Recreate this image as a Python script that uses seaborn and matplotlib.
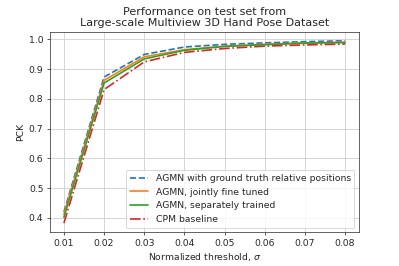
import pandas as pd
import matplotlib
matplotlib.use("Agg")
import matplotlib.pyplot as plt
import seaborn as sns

thresholds = [0.01, 0.02, 0.03, 0.04, 0.05, 0.06, 0.07, 0.08]
pck_gt_relative = [0.420, 0.873, 0.949, 0.974, 0.983, 0.988, 0.992, 0.995]
pck_joint = [0.412, 0.862, 0.941, 0.965, 0.977, 0.983, 0.988, 0.990]
pck_separate = [0.402, 0.853, 0.934, 0.963, 0.976, 0.982, 0.987, 0.989]
pck_cpm = [0.382, 0.831, 0.924, 0.956, 0.969, 0.977, 0.981, 0.984]

series = [
    ("AGMN with ground truth relative positions", pck_gt_relative, "#1f77b4", "--"),
    ("AGMN, jointly fine tuned", pck_joint, "#ff7f0e", "-"),
    ("AGMN, separately trained", pck_separate, "#2ca02c", "-"),
    ("CPM baseline", pck_cpm, "#d62728", "-."),
]

sns.set_style("ticks", {"xtick.major.size": 3.5, "ytick.major.size": 3.5})
plt.rcParams["font.family"] = ["DejaVu Sans"]

fig, ax = plt.subplots(figsize=(6, 4), dpi=66.5)
for nombre, vals, color, ls in series:
    df = pd.DataFrame({"threshold": thresholds, "pck": vals})
    sns.lineplot(data=df, x="threshold", y="pck", ax=ax, color=color,
                 linestyle=ls, linewidth=1.8, label=nombre)

ax.grid(True, color="#d3d3d3", linewidth=1)
ax.set_axisbelow(True)
ax.set_xticks(thresholds)
ax.set_xlabel(r"Normalized threshold, $\sigma$")
ax.set_ylabel("PCK")
ax.set_title("Performance on test set from\nLarge-scale Multiview 3D Hand Pose Dataset")
ax.legend(loc="lower right", frameon=True)
for s in ax.spines.values():
    s.set_color("#333333")

fig.subplots_adjust(left=0.125, right=0.9, top=0.881, bottom=0.127)
fig.savefig("out.png", dpi=66.5)
